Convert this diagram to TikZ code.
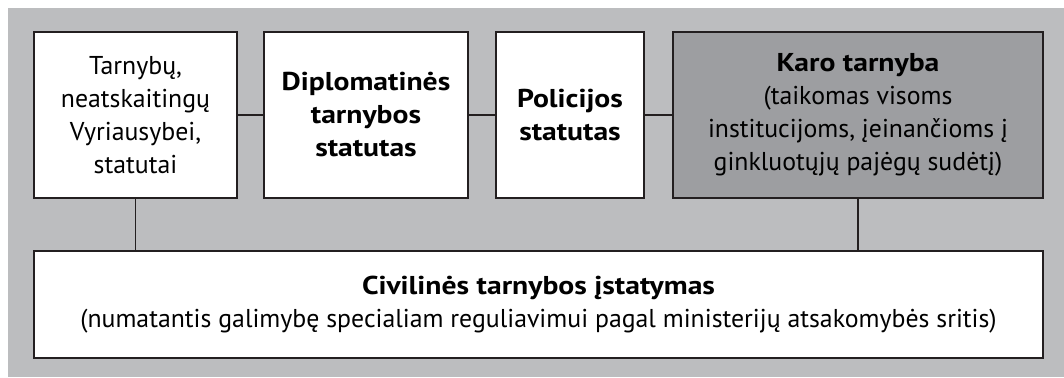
\documentclass[tikz,border=0pt]{standalone}
\usepackage{fontspec}
\setmainfont{PT Sans}[BoldFeatures={FakeStretch=1.15}]
\usepackage{xcolor}
\usetikzlibrary{calc,positioning}
\definecolor{panelgrey}{HTML}{BCBDBF}
\definecolor{armygrey}{HTML}{9D9EA1}
\definecolor{edgeblack}{HTML}{231F20}

\begin{document}
\begin{tikzpicture}[x=1pt,y=-1pt,
  law/.style={draw=edgeblack,line width=1.5pt,fill=white,align=center,
    inner sep=0pt,font=\fontsize{25.8}{33}\selectfont},
  army/.style={law,fill=armygrey},
  link/.style={draw=edgeblack,line width=1.3pt}]
  \useasboundingbox (0,0) rectangle (1064,377);
  \fill [panelgrey] (8,8) rectangle (1064,377);
  % upper row of statutes
  \node [law,minimum width=203pt,minimum height=166pt] (tarn) at (135.5,115)
    {Tarnybų,\\neatskaitingų\\Vyriausybei,\\statutai};
  \node [law,minimum width=204pt,minimum height=166pt] (dipl) at (366,115)
    {\textbf{Diplomatinės}\\\textbf{tarnybos}\\\textbf{statutas}};
  \node [law,minimum width=148pt,minimum height=166pt] (pol) at (570,115)
    {\textbf{Policijos}\\\textbf{statutas}};
  \node [army,minimum width=370pt,minimum height=166pt] (karo) at (858,115)
    {\textbf{Karo tarnyba}\\(taikomas visoms\\institucijoms, įeinančioms į\\ginkluotųjų pajėgų sudėtį)};
  % the civil service law
  \node [law,minimum width=1009pt,minimum height=107pt] (civ) at (538.5,304.5)
    {\textbf{Civilinės tarnybos įstatymas}\\(numatantis galimybę specialiam reguliavimui pagal ministerijų atsakomybės sritis)};
  \draw [link] (tarn) -- (dipl);
  \draw [link] (dipl) -- (pol);
  \draw [link] (pol) -- (karo);
  \draw [link] (tarn.south) -- (tarn.south |- civ.north);
  \draw [link] (karo.south) -- (karo.south |- civ.north);
\end{tikzpicture}
\end{document}
